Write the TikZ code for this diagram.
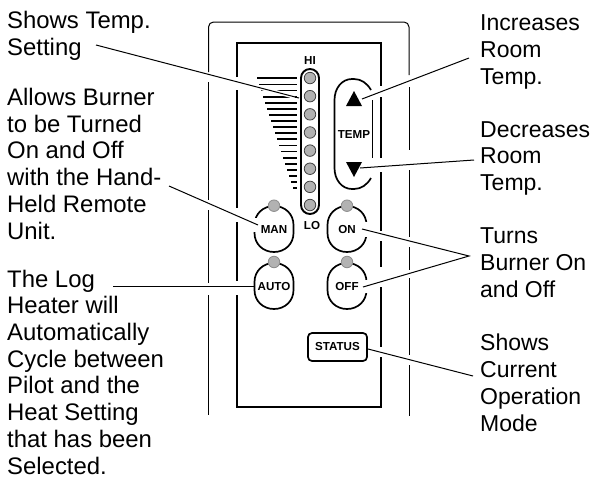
\documentclass[tikz,border=0pt]{standalone}
\usepackage{fontspec}
\setmainfont{Liberation Sans}
\usetikzlibrary{calc}
\tikzset{
  x=1pt,y=-1pt,
  note/.style={anchor=base west,inner sep=0pt,align=left,font=\fontsize{23.9}{26.7}\selectfont,text=black},
  rnote/.style={anchor=base west,inner sep=0pt,align=left,font=\fontsize{23}{26.7}\selectfont,text=black},
  keytext/.style={inner sep=0pt,font=\fontsize{11.6}{12}\selectfont\bfseries},
  lamp/.style={circle,draw=black!75,line width=.8pt,fill=black!30,inner sep=0pt,minimum size=11.5pt},
  leader/.style={draw=black,line width=1pt},
  thinpanel/.style={draw=black,line width=1pt},
  thickpanel/.style={draw=black,line width=2.2pt},
  keyline/.style={draw=black,line width=1.7pt},
  bar/.style={draw=black,line width=1.8pt},
  patch/.style={fill=white,draw=none},
}
\newcommand{\eggbtn}[2]{%
  \draw[keyline] (#1-19.5,#2-4) .. controls (#1-19.5,#2-15) and (#1-11,#2-23) .. (#1,#2-23)
    .. controls (#1+11,#2-23) and (#1+19.5,#2-15) .. (#1+19.5,#2-4)
    -- (#1+19.5,#2+4) .. controls (#1+19.5,#2+15) and (#1+11,#2+23) .. (#1,#2+23)
    .. controls (#1-11,#2+23) and (#1-19.5,#2+15) .. (#1-19.5,#2+4) -- cycle;}
\begin{document}
\begin{tikzpicture}
\useasboundingbox (0,0) rectangle (592,477);
\fill[white] (0,0) rectangle (592,477);
% outer panel
\draw[thinpanel,rounded corners=5pt] (208.5,72) -- (208.5,22) -- (409,22) -- (409,75);
\foreach \a/\b in {82/200,210/283,295/415}{\draw[thinpanel] (208.5,\a) -- (208.5,\b);}
\foreach \a/\b in {87/150,170/237,247/270,278/355,365/416}{\draw[thinpanel] (409,\a) -- (409,\b);}
% inner frame
\draw[thickpanel] (237,77) -- (237,43) -- (381,43) -- (381,86);
\foreach \a/\b in {90/208,222/281,295/407}{\draw[thickpanel] (237,\a) -- (237,\b);}
\foreach \a/\b in {97/158,172/231,241/267,287/347}{\draw[thickpanel] (381,\a) -- (381,\b);}
\draw[thickpanel] (381,357) -- (381,407) -- (236,407);
% wedge of bars
\foreach \i in {0,...,18}{
  \draw[bar] ({257.3+2*\i},{78.3+6.1*\i}) -- (296.7,{78.3+6.1*\i});
}
% strip of lamps
\draw[draw=black,line width=1.9pt,rounded corners=9pt,fill=white] (301,69) rectangle (319,214);
\foreach \i in {1,...,8}{\node[lamp] (L\i) at (310,{59.9+18.14*\i}) {};}
\node[keytext] (hi) at (310,61) {HI};
\node[keytext] (lo) at (312,226) {LO};
% temp key
\draw[keyline] (371,90) .. controls (367,83) and (361,79) .. (354,79) -- (352,79)
  .. controls (342,79) and (334.5,88) .. (334.5,100) -- (334.5,168)
  .. controls (334.5,180) and (342,189) .. (352,189) -- (354,189)
  .. controls (361,189) and (367,185) .. (371,178);
\draw[keyline] (372.5,100) -- (372.5,158);
\node[keytext] (temp) at (354,135) {TEMP};
\fill[black] (354,91) coordinate (upt) -- (362,106) -- (346,106) -- cycle;
\fill[black] (354,177) coordinate (dnt) -- (362,162) -- (346,162) -- cycle;
% round keys
\eggbtn{274}{229}
\eggbtn{274}{286}
\eggbtn{347}{229}
\eggbtn{347}{286}
\fill[patch] (250,218) rectangle (258.5,232);
\fill[patch] (362.5,222) rectangle (371,237);
\fill[patch] (362.5,280) rectangle (371,293);
\node[lamp,draw=black!45] (lman) at (274,205.7) {};
\node[lamp,draw=black!45] (lauto) at (274,262) {};
\node[lamp,draw=black!45] (lon) at (347,205.7) {};
\node[lamp,draw=black!45] (loff) at (347,262) {};
\node[keytext] (man) at (274,230) {MAN};
\node[keytext] (auto) at (274,286.5) {AUTO};
\node[keytext] (on) at (347,230) {ON};
\node[keytext] (off) at (347,286.5) {OFF};
\node[keytext,draw=black,line width=1.7pt,rounded corners=4pt,minimum width=59pt,minimum height=28pt] (status) at (337.5,347) {STATUS};
% notes
\node[note] (nshows) at (7,55) {Shows Temp.\\Setting};
\node[note] (nallows) at (7,239) {Allows Burner\\to be Turned\\On and Off\\with the Hand-\\Held Remote\\Unit.};
\node[note] (nlog) at (7,474) {The Log\\Heater will\\Automatically\\Cycle between\\Pilot and the\\Heat Setting\\that has been\\Selected.};
\node[rnote] (ninc) at (480,84) {Increases\\Room\\Temp.};
\node[rnote] (ndec) at (480,190.5) {Decreases\\Room\\Temp.};
\node[rnote] (nturns) at (480,297) {Turns\\Burner On\\and Off};
\node[rnote] (ncur) at (480,431) {Shows\\Current\\Operation\\Mode};
% leader ends
\coordinate (a1) at (96,45);   \coordinate (a2) at (299,98);
\coordinate (b1) at (169,186); \coordinate (b2) at (258,225);
\coordinate (c1) at (113,286.7); \coordinate (c2) at (254,286.7);
\coordinate (d1) at (469,58);  \coordinate (d2) at (362,99);
\coordinate (e1) at (474,160); \coordinate (e2) at (360,168);
\coordinate (f1) at (469,256); \coordinate (f2) at (362,229); \coordinate (f3) at (363,287);
\coordinate (g1) at (473,376); \coordinate (g2) at (368,349);
\draw[white,line width=4pt] ($(a1)!0.76!(a2)$) -- ($(a1)!0.98!(a2)$);
\draw[leader] (a1) -- (a2);
\draw[leader] (b1) -- (b2);
\draw[leader] (c1) -- (c2);
\draw[leader] (d1) -- (d2);
\draw[leader] (e1) -- (e2);
\draw[leader,line join=miter] (f2) -- (f1) -- (f3);
\draw[leader] (g1) -- (g2);
\end{tikzpicture}
\end{document}
